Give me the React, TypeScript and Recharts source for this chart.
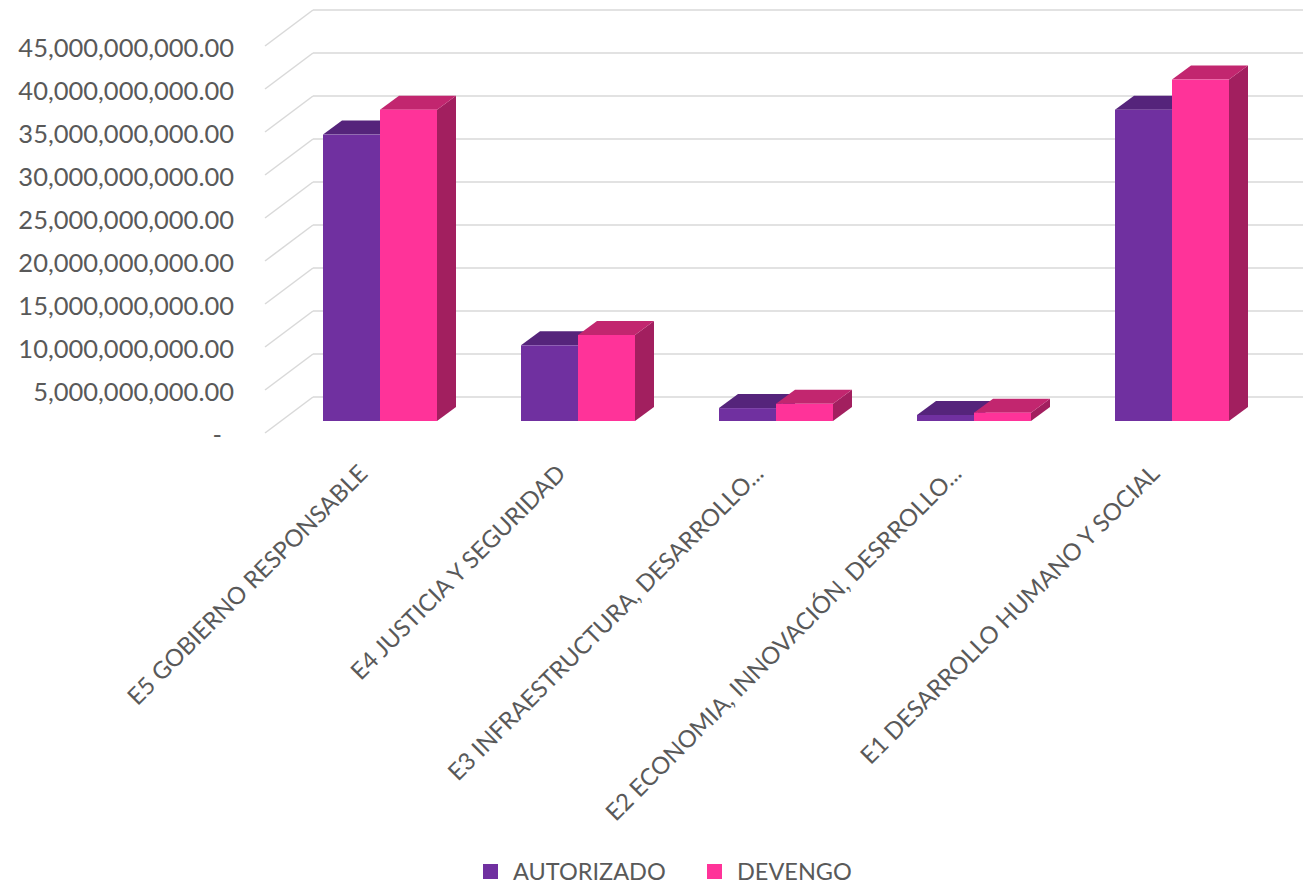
import React from 'react';
import { BarChart, Bar, XAxis, YAxis, CartesianGrid, Legend } from 'recharts';

const categories = [
  'E5 GOBIERNO RESPONSABLE',
  'E4 JUSTICIA Y SEGURIDAD',
  'E3 INFRAESTRUCTURA, DESARROLLO...',
  'E2 ECONOMIA, INNOVACIÓN, DESRROLLO...',
  'E1 DESARROLLO HUMANO Y SOCIAL',
];
const autorizado = [33.3e9, 8.8e9, 1.5e9, 0.7e9, 36.2e9];
const devengo = [36.2e9, 10.0e9, 2.0e9, 0.97e9, 39.7e9];
const yTicks = [0, 5e9, 10e9, 15e9, 20e9, 25e9, 30e9, 35e9, 40e9, 45e9];

const seriesNames = ['AUTORIZADO', 'DEVENGO'];
const seriesColors = ['#7030A0', '#FF3399'];
const topColors = ['#55247B', '#C2266F'];
const sideColors = ['#561F7E', '#A21F5F'];

const data = categories.map((c, i) => ({ name: c, AUTORIZADO: autorizado[i], DEVENGO: devengo[i] }));

const FONT = "Lato, 'Open Sans', sans-serif";
const TEXT = '#595959';
const DX = 19;
const DY = -14;

const make3DShape = (idx: number) => (props: any) => {
  const { x, y, width, height } = props;
  if (width == null || height == null) return null;
  const w = width;
  const h = height;
  const top = `${x},${y} ${x + DX},${y + DY} ${x + w + DX},${y + DY} ${x + w},${y}`;
  const side = `${x + w},${y} ${x + w + DX},${y + DY} ${x + w + DX},${y + h + DY} ${x + w},${y + h}`;
  return (
    <g>
      <polygon points={side} fill={sideColors[idx]} />
      <polygon points={top} fill={topColors[idx]} />
      <rect x={x} y={y} width={w} height={h} fill={seriesColors[idx]} />
    </g>
  );
};

const gridLine = (props: any) => {
  const { x1, y1, x2, key } = props;
  return (
    <g key={key}>
      <line x1={x1 + 32} y1={y1 - 24} x2={x2 + 32} y2={y1 - 24} stroke="#D9D9D9" strokeWidth={1.5} />
      <line x1={x1 - 16} y1={y1 + 12} x2={x1 + 32} y2={y1 - 24} stroke="#D9D9D9" strokeWidth={1.5} />
    </g>
  );
};

const fmt = (v: number) =>
  v.toLocaleString('en-US', { minimumFractionDigits: 2, maximumFractionDigits: 2 });

const YTick = (props: any) => {
  const { y, payload } = props;
  const v = payload.value;
  if (v === 0) {
    return (
      <text x={222} y={y + 23} textAnchor="end" fill={TEXT} fontSize={25.5} fontFamily={FONT}>
        -
      </text>
    );
  }
  return (
    <text x={234} y={y + 23} textAnchor="end" fill={TEXT} fontSize={25.5} fontFamily={FONT}>
      {fmt(v)}
    </text>
  );
};

const XTick = (props: any) => {
  const { x, y, payload } = props;
  return (
    <g transform={`translate(${x - 11},${y + 54})`}>
      <text x={0} y={0} textAnchor="end" transform="rotate(-45)" fill={TEXT} fontSize={23.8} fontFamily={FONT}>
        {payload.value}
      </text>
    </g>
  );
};

const LegendContent = () => (
  <div style={{ position: 'relative', height: 0, width: 1309 }}>
    {seriesNames.map((n, i) => (
      <div
        key={n}
        style={{
          position: 'absolute',
          left: i === 0 ? 483 : 707,
          top: 857,
          display: 'flex',
          alignItems: 'center',
          fontFamily: FONT,
          fontSize: 23.5,
          color: TEXT,
          whiteSpace: 'nowrap',
        }}
      >
        <span style={{ display: 'inline-block', width: 15, height: 15, background: seriesColors[i], marginRight: 15 }} />
        <span>{n}</span>
      </div>
    ))}
  </div>
);

export default function App() {
  return (
    <div style={{ position: 'absolute', left: 0, top: 0, width: 1309, height: 884, background: '#fff' }}>
      <BarChart
        width={1309}
        height={884}
        data={data}
        margin={{ top: 34, right: 38, bottom: 0, left: 0 }}
        barGap={0}
        barSize={57}
      >
        <CartesianGrid vertical={false} horizontal={gridLine as any} />
        <XAxis
          dataKey="name"
          height={463}
          axisLine={false}
          tickLine={false}
          tickSize={0}
          tickMargin={0}
          interval={0}
          tick={<XTick />}
        />
        <YAxis
          width={281}
          domain={[0, 45e9]}
          ticks={yTicks}
          axisLine={false}
          tickLine={false}
          tick={<YTick />}
        />
        <Legend
          content={<LegendContent />}
          wrapperStyle={{ position: 'absolute', left: 0, top: 0, width: 1309, height: 0 }}
        />
        <Bar dataKey="AUTORIZADO" fill={seriesColors[0]} shape={make3DShape(0)} isAnimationActive={false} />
        <Bar dataKey="DEVENGO" fill={seriesColors[1]} shape={make3DShape(1)} isAnimationActive={false} />
      </BarChart>
    </div>
  );
}
